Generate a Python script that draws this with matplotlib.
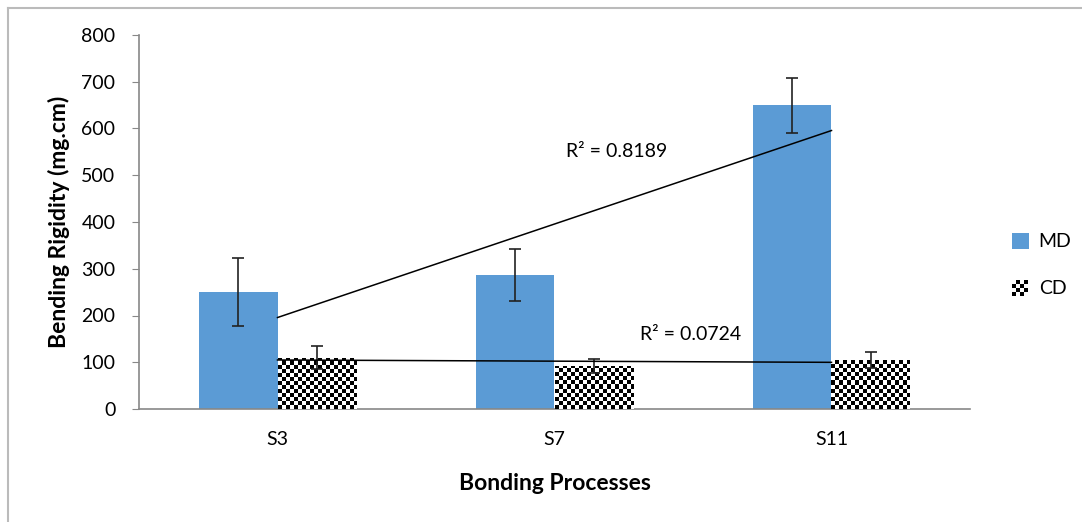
import numpy as np
import matplotlib
matplotlib.use("Agg")
import matplotlib.pyplot as plt
from matplotlib.patches import Rectangle
from matplotlib.legend_handler import HandlerBase
from matplotlib.lines import Line2D

categories = ["S3", "S7", "S11"]
md_values = [250, 287, 650]
md_errors = [72, 56, 59]
cd_values = [110, 92, 105]
cd_errors = [24, 14, 17]
r2_labels = ["R² = 0.8189", "R² = 0.0724"]
yticks = [0, 100, 200, 300, 400, 500, 600, 700, 800]

plt.rcParams['font.family'] = ['Lato', 'DejaVu Sans']

W, H = 1082, 522
fig = plt.figure(figsize=(W / 100, H / 100), dpi=100)
ax = fig.add_axes([139 / W, (H - 409) / H, (970 - 139) / W, (409 - 35) / H])

x = np.arange(len(categories))
bw = 0.285
blue = "#5B9BD5"

md_bars = ax.bar(x - bw / 2, md_values, bw, color=blue, zorder=2)
cd_bars = ax.bar(x + bw / 2, cd_values, bw, facecolor="white", zorder=2)

ax.set_xlim(-0.5, len(categories) - 0.5)
ax.set_ylim(0, 800)

# checkerboard fill for CD bars
px_per_x = (970 - 139) / 3.0
px_per_y = (409 - 35) / 800.0
cell = 4.0
for b in cd_bars:
    x0, w = b.get_x(), b.get_width()
    h = b.get_height()
    nx = int(np.ceil(w * px_per_x / cell))
    ny = int(np.ceil(h * px_per_y / cell))
    ii, jj = np.indices((ny, nx))
    checker = ((ii + jj) % 2).astype(float)
    im = ax.imshow(checker, cmap="gray", vmin=0, vmax=1, interpolation="nearest",
                   extent=(x0, x0 + nx * cell / px_per_x, 0, ny * cell / px_per_y),
                   origin="lower", aspect="auto", zorder=3)
    im.set_clip_path(b)
ax.set_xlim(-0.5, len(categories) - 0.5)
ax.set_ylim(0, 800)

ax.errorbar(x - bw / 2, md_values, yerr=md_errors, fmt="none", ecolor="#222222",
            elinewidth=1.2, capsize=4, capthick=1.2, zorder=5)
ax.errorbar(x + bw / 2, cd_values, yerr=cd_errors, fmt="none", ecolor="#222222",
            elinewidth=1.2, capsize=4, capthick=1.2, zorder=5)

# linear trendlines
for vals in (md_values, cd_values):
    k, c = np.polyfit(x, vals, 1)
    ax.plot([x[0], x[-1]], [k * x[0] + c, k * x[-1] + c], color="black", lw=1.1, zorder=6)

ax.text(1.04, 550, r2_labels[0], fontsize=14, va="center", ha="left", zorder=7)
ax.text(1.31, 160, r2_labels[1], fontsize=14, va="center", ha="left", zorder=7)

for s in ["top", "right"]:
    ax.spines[s].set_visible(False)
for s in ["left", "bottom"]:
    ax.spines[s].set_color("#888888")
    ax.spines[s].set_linewidth(1.2)

ax.set_yticks(yticks)
ax.set_yticklabels([str(v) for v in yticks], fontsize=14)
ax.set_xticks(x)
ax.set_xticklabels(categories, fontsize=14)
ax.tick_params(axis="x", length=0, pad=16)
ax.tick_params(axis="y", length=5, color="#888888", pad=12, direction="out")

ax.set_xlabel("Bonding Processes", fontsize=16.5, fontweight="bold", labelpad=18)
ax.set_ylabel("Bending Rigidity (mg.cm)", fontsize=16.5, fontweight="bold", labelpad=8)


class CheckerHandler(HandlerBase):
    def create_artists(self, legend, orig_handle, xdescent, ydescent, width, height, fontsize, trans):
        arts = []
        n = 4
        side = min(width, height)
        s = side / n
        x0 = -xdescent + (width - side) / 2
        y0 = -ydescent + (height - side) / 2
        for i in range(n):
            for j in range(n):
                col = "black" if (i + j) % 2 == 0 else "white"
                r = Rectangle((x0 + j * s, y0 + i * s), s, s, facecolor=col, edgecolor="none",
                              transform=trans)
                arts.append(r)
        return arts


md_handle = Rectangle((0, 0), 1, 1, facecolor=blue)
cd_handle = Rectangle((0, 0), 1, 1, facecolor="white")
leg = fig.legend([md_handle, cd_handle], ["MD", "CD"], loc="center left",
                 bbox_to_anchor=(994 / W, (H - 265) / H), frameon=False, fontsize=14,
                 handlelength=0.9, handleheight=0.9, handletextpad=0.5, labelspacing=1.5,
                 handler_map={cd_handle: CheckerHandler()})

# outer frame lines (top and left)
fig.add_artist(Line2D([8 / W, 1.0], [(H - 8) / H, (H - 8) / H], color="#bbbbbb", lw=1.5,
                      transform=fig.transFigure))
fig.add_artist(Line2D([8 / W, 8 / W], [0, (H - 8) / H], color="#bbbbbb", lw=1.5,
                      transform=fig.transFigure))

fig.savefig("out.png", dpi=100)
